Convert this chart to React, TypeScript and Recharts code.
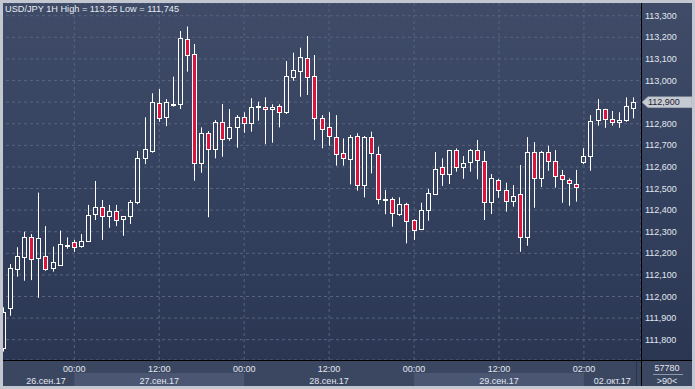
import React from 'react';
import { ComposedChart, Bar, XAxis, YAxis, CartesianGrid, ReferenceLine } from 'recharts';

// USD/JPY hourly candles, 26.09.17 14:00 .. 02.10.17 09:00
const OPEN = [
  111.760, 111.945, 112.126, 112.184, 112.274, 112.177, 112.188, 112.131, 112.147, 112.236,
  112.251, 112.235, 112.258, 112.381, 112.416, 112.374, 112.394, 112.357, 112.371, 112.439,
  112.640, 112.675, 112.894, 112.832, 112.888, 112.890, 113.191, 113.121, 112.617, 112.756,
  112.681, 112.806, 112.732, 112.783, 112.830, 112.802, 112.881, 112.879, 112.867, 112.882,
  112.853, 113.018, 113.045, 113.103, 113.021, 112.825, 112.783, 112.740, 112.663, 112.635,
  112.744, 112.515, 112.737, 112.658, 112.449, 112.450, 112.381, 112.428, 112.354, 112.311,
  112.400, 112.475, 112.598, 112.566, 112.677, 112.601, 112.621, 112.677, 112.627, 112.436,
  112.538, 112.492, 112.441, 112.473, 112.274, 112.668, 112.547, 112.668, 112.626, 112.561,
  112.538, 112.519, 112.621, 112.649, 112.816, 112.867, 112.820, 112.806, 112.816, 112.874,
];
const HIGH = [
  111.950, 112.150, 112.228, 112.300, 112.289, 112.481, 112.326, 112.231, 112.305, 112.274,
  112.262, 112.289, 112.424, 112.535, 112.447, 112.424, 112.424, 112.371, 112.447, 112.674,
  112.830, 112.941, 112.961, 112.914, 113.018, 113.229, 113.250, 113.169, 112.783, 112.766,
  112.817, 112.891, 112.868, 112.840, 112.853, 112.918, 112.902, 112.922, 112.890, 112.890,
  113.090, 113.129, 113.152, 113.206, 113.118, 112.840, 112.853, 112.840, 112.732, 112.748,
  112.756, 112.743, 112.763, 112.694, 112.493, 112.459, 112.459, 112.434, 112.357, 112.434,
  112.498, 112.669, 112.640, 112.679, 112.686, 112.650, 112.683, 112.725, 112.674, 112.567,
  112.545, 112.527, 112.516, 112.609, 112.738, 112.715, 112.674, 112.698, 112.678, 112.586,
  112.547, 112.586, 112.687, 112.840, 112.914, 112.869, 112.859, 112.853, 112.922, 112.922,
];
const LOW = [
  111.745, 111.911, 112.092, 112.073, 112.076, 111.994, 112.119, 112.115, 112.145, 112.221,
  112.207, 112.226, 112.254, 112.354, 112.262, 112.318, 112.326, 112.281, 112.336, 112.427,
  112.613, 112.666, 112.809, 112.789, 112.879, 112.868, 113.041, 112.536, 112.573, 112.367,
  112.640, 112.647, 112.721, 112.689, 112.758, 112.763, 112.814, 112.705, 112.712, 112.783,
  112.845, 112.999, 112.925, 112.933, 112.725, 112.686, 112.698, 112.606, 112.606, 112.519,
  112.490, 112.459, 112.570, 112.427, 112.381, 112.323, 112.373, 112.246, 112.262, 112.309,
  112.351, 112.470, 112.512, 112.521, 112.578, 112.545, 112.578, 112.543, 112.354, 112.382,
  112.457, 112.393, 112.416, 112.207, 112.235, 112.411, 112.507, 112.582, 112.504, 112.434,
  112.420, 112.439, 112.613, 112.582, 112.791, 112.781, 112.791, 112.781, 112.809, 112.825,
];
const CLOSE = [
  111.930, 112.131, 112.188, 112.274, 112.172, 112.269, 112.129, 112.160, 112.242, 112.240,
  112.231, 112.256, 112.377, 112.416, 112.374, 112.394, 112.356, 112.371, 112.436, 112.640,
  112.681, 112.899, 112.828, 112.899, 112.892, 113.195, 113.118, 112.617, 112.756, 112.681,
  112.806, 112.729, 112.783, 112.830, 112.802, 112.879, 112.883, 112.867, 112.876, 112.853,
  113.021, 113.049, 113.107, 113.015, 112.825, 112.774, 112.744, 112.658, 112.640, 112.740,
  112.515, 112.740, 112.663, 112.450, 112.451, 112.385, 112.428, 112.351, 112.308, 112.400,
  112.478, 112.589, 112.566, 112.677, 112.598, 112.617, 112.677, 112.631, 112.436, 112.547,
  112.492, 112.441, 112.464, 112.274, 112.668, 112.547, 112.668, 112.626, 112.556, 112.543,
  112.524, 112.506, 112.649, 112.811, 112.867, 112.820, 112.806, 112.816, 112.881, 112.900,
];

const TIME_TICKS = [10, 22, 34, 46, 58, 70, 82];
const TIME_LABELS = ['00:00', '12:00', '00:00', '12:00', '00:00', '12:00', '02:00'];
const DATE_TICKS = [6, 22, 46, 70, 86];
const DATE_LABELS = ['26.сен.17', '27.сен.17', '28.сен.17', '29.сен.17', '02.окт.17'];
const DATE_SHADED = [false, true, false, true, false];
const Y_TICKS = [111.8, 111.9, 112.0, 112.1, 112.2, 112.3, 112.4, 112.5, 112.6, 112.7, 112.8, 112.9, 113.0, 113.1, 113.2, 113.3];

const LAST = CLOSE[CLOSE.length - 1];
const data = OPEN.map((o, i) => ({ i, o, h: HIGH[i], l: LOW[i], c: CLOSE[i] }));

const W = 695;
const H = 389;
const AXIS_X = 641;
const CANDLE_W = (AXIS_X - 4) / data.length;
const FONT = '"Liberation Sans", Arial, sans-serif';
const TXT = '#e1e7f1';
const RED = '#dc143c';

const fmt = (v: number) => v.toFixed(3).replace('.', ',');

const Candle = (props: any) => {
  const { x, y, width, height, payload } = props;
  const { o, h, l, c } = payload;
  const top = Math.min(y, y + height);
  const hgt = Math.abs(height);
  const py = (v: number) => top + ((h - v) / (h - l || 1)) * hgt;
  const cx = Math.floor(x + width / 2) + 0.5;
  const up = c >= o;
  const bTop = Math.round(py(Math.max(o, c))) + 0.5;
  const bBot = Math.max(Math.round(py(Math.min(o, c))) + 0.5, bTop + 1);
  return (
    <g>
      <line x1={cx} x2={cx} y1={top} y2={bTop} stroke="#fff" strokeWidth={1} />
      <line x1={cx} x2={cx} y1={bBot} y2={top + hgt} stroke="#fff" strokeWidth={1} />
      <rect x={cx - 2} y={bTop} width={4} height={bBot - bTop} fill={up ? 'none' : RED} stroke="#fff" strokeWidth={1} />
    </g>
  );
};

const TimeTick = ({ x, y, payload }: any) => {
  const k = TIME_TICKS.indexOf(payload.value);
  return (
    <text x={x} y={y + 11.5} textAnchor="middle" fill={TXT} fontSize={9} fontFamily={FONT}>
      {TIME_LABELS[k]}
    </text>
  );
};

const DateTick = ({ x, y, payload }: any) => {
  const k = DATE_TICKS.indexOf(payload.value);
  return (
    <g>
      {DATE_SHADED[k] && (
        <rect x={x - 12 * CANDLE_W} y={y} width={24 * CANDLE_W} height={13.5} fill="#4a5672" />
      )}
      <text x={x} y={y + 10.5} textAnchor="middle" fill={TXT} fontSize={9} fontFamily={FONT}>
        {DATE_LABELS[k]}
      </text>
    </g>
  );
};

const PriceTick = ({ x, y, payload }: any) => {
  if (Math.abs(payload.value - LAST) < 0.0005) return <g />;
  return (
    <text x={x} y={y + 3} textAnchor="start" fill={TXT} fontSize={9} fontFamily={FONT}>
      {fmt(payload.value)}
    </text>
  );
};

const PriceTag = (props: any) => {
  const { viewBox } = props;
  const x0 = viewBox.x + viewBox.width + 1;
  const yc = viewBox.y;
  return (
    <g>
      <path
        d={`M${x0} ${yc} L${x0 + 6} ${yc - 5.5} L${x0 + 50} ${yc - 5.5} L${x0 + 50} ${yc + 5.5} L${x0 + 6} ${yc + 5.5} Z`}
        fill="#c6cad2"
        stroke="#9aa0ab"
        strokeWidth={0.5}
      />
      <text x={x0 + 6} y={yc + 3.2} fill="#1d2432" fontSize={9} fontFamily={FONT}>
        {fmt(LAST)}
      </text>
    </g>
  );
};

export default function App() {
  return (
    <div style={{ position: 'absolute', left: 0, top: 0, width: W, height: H, overflow: 'hidden', fontFamily: FONT }}>
      <div
        style={{
          position: 'absolute', left: 0, top: 0, width: W, height: 361,
          background: 'linear-gradient(to bottom, #3f4b67 0%, #35425f 50%, #2a3652 100%)',
        }}
      />
      <div style={{ position: 'absolute', left: 0, top: 361, width: W, height: 28, background: '#3b4660' }} />

      <div style={{ position: 'absolute', left: 0, top: 0 }}>
        <ComposedChart width={W} height={H} data={data} margin={{ top: 3, right: 0, bottom: 3, left: 0 }}>
          <CartesianGrid stroke="#58647f" strokeDasharray="3 3" />
          <XAxis
            dataKey="i"
            type="category"
            ticks={TIME_TICKS}
            interval={0}
            height={13}
            padding={{ left: 0, right: 4 }}
            axisLine={false}
            tickLine={false}
            tickSize={0}
            tickMargin={0}
            tick={<TimeTick />}
          />
          <XAxis
            xAxisId="d"
            dataKey="i"
            type="category"
            ticks={DATE_TICKS}
            interval={0}
            height={13}
            padding={{ left: 0, right: 4 }}
            axisLine={false}
            tickLine={false}
            tickSize={0}
            tickMargin={0}
            tick={<DateTick />}
          />
          <YAxis
            orientation="right"
            width={W - AXIS_X}
            domain={[111.706, 113.359]}
            allowDataOverflow
            ticks={Y_TICKS}
            interval={0}
            axisLine={false}
            tickLine={false}
            tickSize={0}
            tickMargin={4}
            tick={<PriceTick />}
          />
          <Bar
            dataKey={(d: any) => [d.l, d.h]}
            barSize={5}
            shape={<Candle />}
            isAnimationActive={false}
          />
          <ReferenceLine y={LAST} stroke="none" label={<PriceTag />} />
        </ComposedChart>
      </div>

      {/* separators */}
      <div style={{ position: 'absolute', left: 0, top: 360, width: W, height: 1, background: '#000' }} />
      <div style={{ position: 'absolute', left: AXIS_X, top: 0, width: 1, height: 386, background: '#000' }} />
      <div style={{ position: 'absolute', left: 636, top: 361, width: 1, height: 25, background: '#2c3447' }} />

      {/* title */}
      <div style={{ position: 'absolute', left: 5, top: 4, fontSize: 9.2, lineHeight: '10px', color: '#e6ebf2', whiteSpace: 'nowrap' }}>
        USD/JPY 1H High = 113,25 Low = 111,745
      </div>

      {/* bottom-right counter */}
      <div style={{ position: 'absolute', left: 647, top: 363, width: 40, textAlign: 'center', fontSize: 9, lineHeight: '10px', color: TXT }}>
        57780
      </div>
      <div style={{ position: 'absolute', left: 653, top: 374, width: 30, height: 1, background: '#8d97aa' }} />
      <div style={{ position: 'absolute', left: 647, top: 376, width: 40, textAlign: 'center', fontSize: 9, lineHeight: '10px', color: TXT }}>
        &gt;90&lt;
      </div>

      {/* frame */}
      <div style={{ position: 'absolute', left: 0, top: 0, width: W, height: H, boxSizing: 'border-box', border: '3px solid #c3c7cf', pointerEvents: 'none' }} />
    </div>
  );
}
